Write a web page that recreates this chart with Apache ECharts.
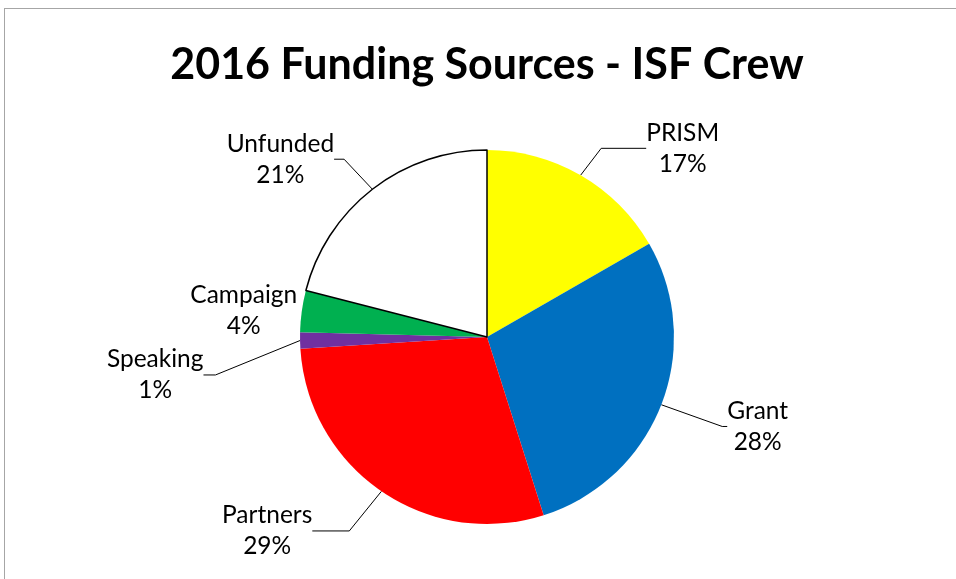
<!DOCTYPE html>
<html>
<head>
<meta charset="utf-8">
<script src="https://cdn.jsdelivr.net/npm/echarts@6/dist/echarts.min.js"></script>
<style>
  html, body { margin: 0; padding: 0; background: #fff; }
  #chart { position: absolute; left: 0; top: 0; width: 956px; height: 579px; }
  #frame { position: absolute; left: 4px; top: 8px; width: 980px; height: 600px;
           border-top: 1.5px solid #a6a6a6; border-left: 1.5px solid #a6a6a6; pointer-events: none; }
</style>
</head>
<body>
<div id="chart"></div>
<div id="frame"></div>
<script>
// 数据
var categories = ["PRISM", "Grant", "Partners", "Speaking", "Campaign", "Unfunded"];
var values = [16.7, 28.4, 28.9, 1.4, 3.6, 21.0];
var colors = ["#ffff00", "#0070c0", "#ff0000", "#7030a0", "#00b050", "#ffffff"];
// 引导线长度（第一段、第二段），每个标签单独调
var lineLen1 = [31, 60, 48, 88, 2, 38];
var lineLen2 = [45, 5, 37, 12, 2, 10];

var chart = echarts.init(document.getElementById("chart"));

var pieData = categories.map(function(name, i) {
  var item = {
    name: name,
    value: values[i],
    itemStyle: { color: colors[i] },
    labelLine: { show: name !== "Campaign", length: lineLen1[i], length2: lineLen2[i] }
  };
  // 白色扇区加黑边
  if (name === "Unfunded") {
    item.itemStyle.borderColor = "#000";
    item.itemStyle.borderWidth = 1.5;
  }
  return item;
});

var option = {
  animation: false,
  title: {
    text: "2016 Funding Sources - ISF Crew",
    left: 482,
    textAlign: "center",
    top: 39,
    textStyle: { fontFamily: "Lato", fontWeight: "bold", fontSize: 43, color: "#000" }
  },
  series: [
    {
      type: "pie",
      center: [487, 337],
      radius: 187,
      startAngle: 90,
      data: pieData,
      label: {
        show: true,
        fontFamily: "Lato",
        fontSize: 24.5,
        lineHeight: 31,
        color: "#000",
        formatter: function(p) {
          return p.name + "\n" + Math.round(p.percent) + "%";
        }
      },
      labelLine: {
        show: true,
        lineStyle: { color: "#000", width: 1 }
      },
      // 标签文字居中，跟 Excel 一样
      labelLayout: function(p) {
        var r = p.labelRect;
        return {
          x: r.x + r.width / 2,
          y: r.y + r.height / 2,
          align: "center",
          verticalAlign: "middle"
        };
      }
    }
  ]
};

chart.setOption(option);
</script>
</body>
</html>
